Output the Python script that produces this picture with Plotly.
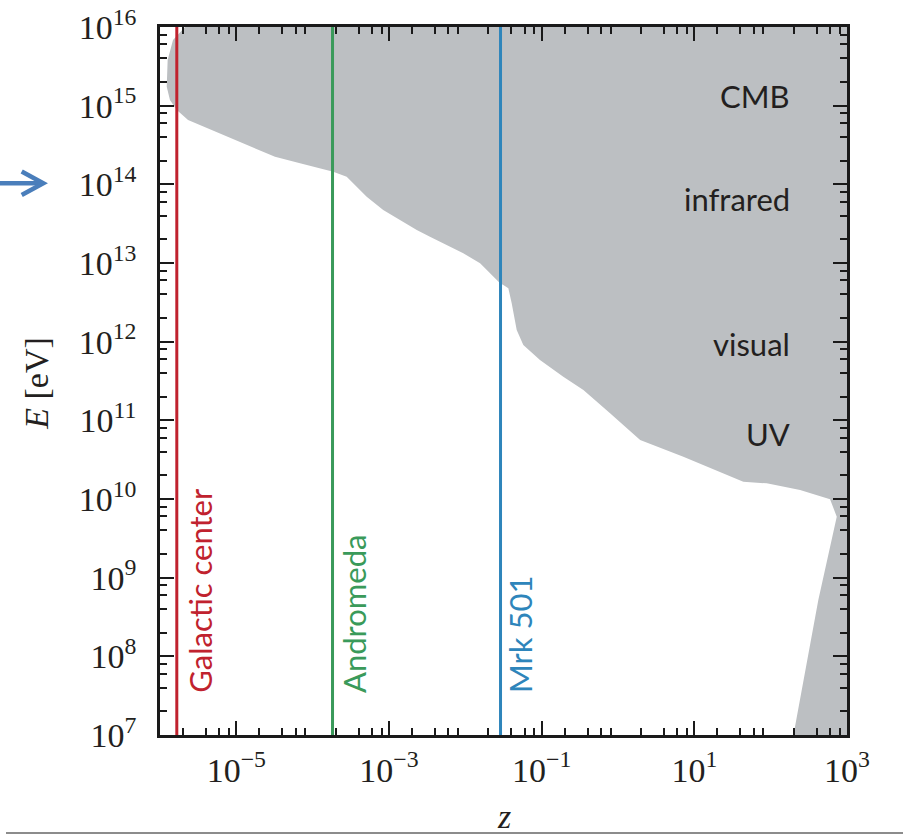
import math
import plotly.graph_objects as go

# ---- data ----
# boundary of the opaque (gray) region, z (redshift) and E (eV)
horizon_z = [2.13e-6, 1.48e-6, 1.26e-6, 1.225e-6, 1.35e-6, 1.66e-6, 2.33e-6, 4.75e-6, 9.6e-6, 1.92e-5,
             3.21e-5, 6.83e-5, 1.86e-4, 2.79e-4, 3.78e-4, 5.1e-4, 8.4e-4, 2.31e-3, 3.44e-3, 9.4e-3,
             1.56e-2, 2.33e-2, 2.85e-2, 3.15e-2, 3.66e-2, 4.05e-2, 4.71e-2, 5.75e-2, 9.5e-2, 0.192,
             0.352, 0.787, 1.95, 7.18, 21.7, 43.8, 88.8, 243, 600, 734,
             421, 199, 1e3, 1e3]
horizon_E = [1e16, 6.84e15, 3.81e15, 1.74e15, 1.18e15, 8.8e14, 6.58e14, 4.91e14, 3.66e14, 2.73e14,
             2.24e14, 1.85e14, 1.45e14, 1.25e14, 9.33e13, 6.97e13, 4.72e13, 2.63e13, 2.16e13, 1.33e13,
             9.9e12, 6.7e12, 5.52e12, 5.25e12, 4.77e12, 3.08e12, 1.41e12, 9.07e11, 5.85e11, 3.59e11,
             2.43e11, 1.23e11, 5.62e10, 3.45e10, 2.22e10, 1.66e10, 1.58e10, 1.30e10, 9.93e9, 5.96e9,
             5.2e8, 1e7, 1e7, 1e16]

source_names = ["Galactic center", "Andromeda", "Mrk 501"]
source_z = [1.66e-6, 1.82e-4, 2.89e-2]
source_colors = ["#c0222e", "#3a9a5a", "#2e85bb"]

band_names = ["CMB", "infrared", "visual", "UV"]
band_E = [1.33e15, 6.53e13, 9.38e11, 6.73e10]
band_label_z = 189

x_tickvals = [1e-5, 1e-3, 1e-1, 1e1, 1e3]
x_ticktext = ["10<sup>\u22125</sup>", "10<sup>\u22123</sup>", "10<sup>\u22121</sup>", "10<sup>1</sup>", "10<sup>3</sup>"]
y_tickvals = [10.0 ** k for k in range(7, 17)]
y_ticktext = ["10<sup>%d</sup>" % k for k in range(7, 17)]

x_minor = [m * 10.0 ** k for k in range(-6, 3) for m in (2, 4, 6, 8)]
y_minor = [m * 10.0 ** k for k in range(7, 16) for m in (2, 4, 6, 8)]

E_min, E_max = 1e7, 1e16

# ---- figure ----
fig = go.Figure()
fig.add_trace(go.Scatter(x=horizon_z, y=horizon_E, mode="lines", fill="toself",
                         fillcolor="#bcbfc2", line=dict(width=0, color="#bcbfc2"),
                         hoverinfo="skip", showlegend=False))
for name, z, c in zip(source_names, source_z, source_colors):
    fig.add_trace(go.Scatter(x=[z, z], y=[E_min, E_max], mode="lines",
                             line=dict(color=c, width=3), showlegend=False, name=name))

label_font = "Lato, 'Open Sans', sans-serif"
serif = "'Liberation Serif', 'DejaVu Serif', serif"

annotations = []
label_shifts = [23.5, 21.5, 20.0]
for name, z, c, sh in zip(source_names, source_z, source_colors, label_shifts):
    annotations.append(dict(x=math.log10(z), xref="x", y=0.0565, yref="paper", text=name, textangle=-90,
                            xanchor="center", yanchor="bottom", xshift=sh, showarrow=False,
                            font=dict(family=label_font, size=31, color=c)))
for name, e in zip(band_names, band_E):
    annotations.append(dict(x=math.log10(band_label_z), xref="x", y=math.log10(e), yref="y", text=name,
                            xanchor="right", yanchor="middle", showarrow=False,
                            font=dict(family=label_font, size=31, color="#231f20")))
# axis titles
annotations.append(dict(x=-0.181, xref="paper", y=0.497, yref="paper", text="<i>E</i> [eV]",
                        textangle=-90, xanchor="center", yanchor="middle", showarrow=False,
                        font=dict(family=serif, size=34, color="#231f20")))
annotations.append(dict(x=0.5, xref="paper", y=-0.1158, yref="paper", text="<i>z</i>",
                        xanchor="center", yanchor="middle", showarrow=False,
                        font=dict(family=serif, size=34, color="#231f20")))

shapes = [
    # slide arrow on the left
    dict(type="line", xref="paper", yref="paper", x0=-0.2329, x1=-0.1718, y0=0.7792, y1=0.7792,
         line=dict(color="#4a7ebb", width=4.5)),
    dict(type="path", xref="paper", yref="paper",
         path="M -0.2013 0.7960 L -0.1699 0.7792 L -0.2013 0.7627",
         line=dict(color="#4a7ebb", width=4.5)),
    # slide rule at bottom
    dict(type="line", xref="paper", yref="paper", x0=-0.2242, x1=1.09, y0=-0.1384, y1=-0.1384,
         line=dict(color="#666666", width=1.5)),
]

axis_common = dict(type="log", showgrid=False, zeroline=False, showline=True, automargin=False,
                   linecolor="#1a1a1a", linewidth=2.5, mirror="allticks",
                   ticks="inside", ticklen=14, tickwidth=2, tickcolor="#1a1a1a",
                   tickfont=dict(family=serif, size=34, color="#231f20"))

fig.update_xaxes(range=[-6, 3], tickmode="array", tickvals=x_tickvals, ticktext=x_ticktext,
                 minor=dict(tickvals=x_minor, ticks="inside", ticklen=7, tickwidth=2, tickcolor="#1a1a1a"),
                 ticklabelstandoff=3, **axis_common)
fig.update_yaxes(range=[7, 16], tickmode="array", tickvals=y_tickvals, ticktext=y_ticktext,
                 minor=dict(tickvals=y_minor, ticks="inside", ticklen=7, tickwidth=2, tickcolor="#1a1a1a"),
                 ticklabelstandoff=14, **axis_common)

fig.update_layout(width=903, height=835, margin=dict(l=160, r=56, t=27, b=100),
                  paper_bgcolor="white", plot_bgcolor="white",
                  annotations=annotations, shapes=shapes, showlegend=False)

fig.write_html("out.html")
